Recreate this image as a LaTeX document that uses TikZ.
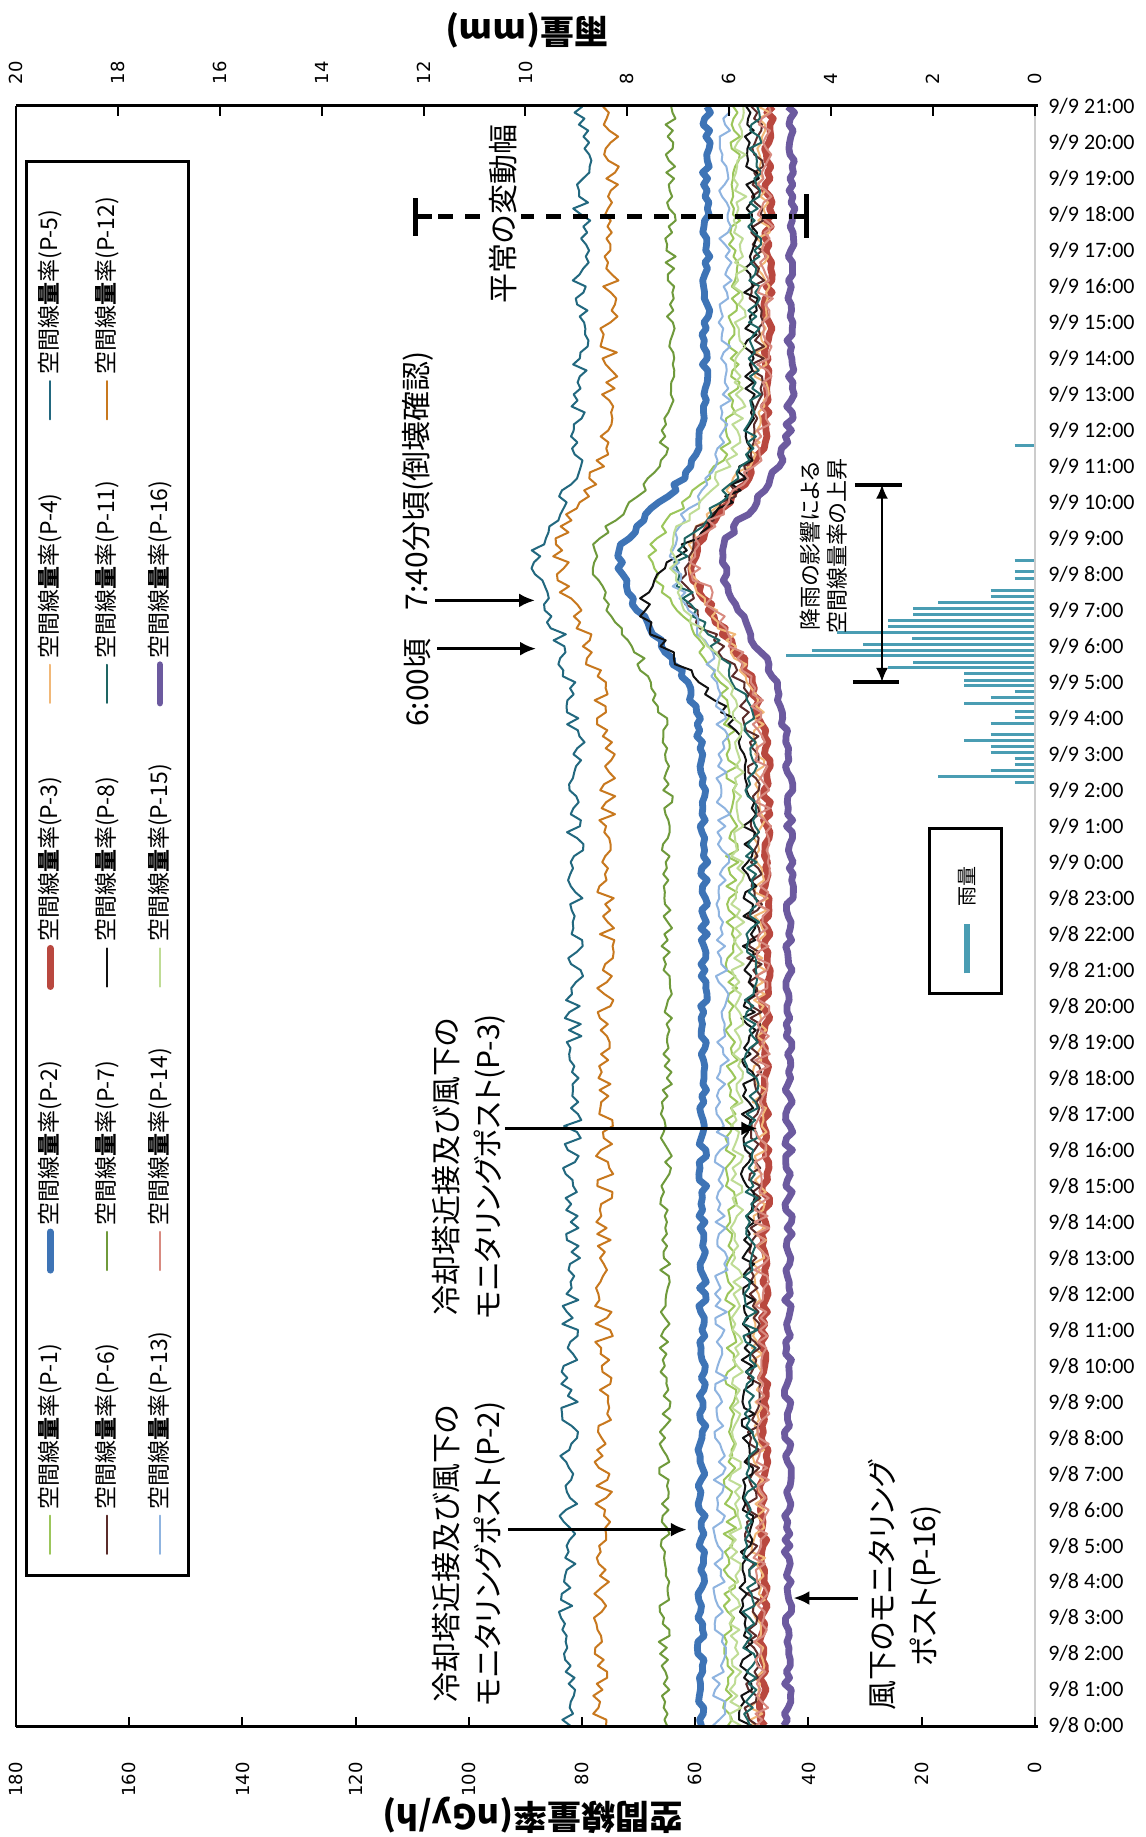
\documentclass[tikz,border=0pt]{standalone}
\usepackage{fontspec}
\newfontfamily\jpf{Noto Sans CJK JP}[RawFeature=+palt]
\newfontfamily\timef{Carlito}
\newfontfamily\tickf{DejaVu Sans}
\usetikzlibrary{arrows.meta}
\definecolor{cP1}{HTML}{9CC65B}
\definecolor{cP2}{HTML}{3E74B6}
\definecolor{cP3}{HTML}{B9483F}
\definecolor{cP4}{HTML}{F1B878}
\definecolor{cP5}{HTML}{22687F}
\definecolor{cP6}{HTML}{5B2C2A}
\definecolor{cP7}{HTML}{6F9A3B}
\definecolor{cP8}{HTML}{111111}
\definecolor{cP11}{HTML}{1E6563}
\definecolor{cP12}{HTML}{C8781E}
\definecolor{cP13}{HTML}{8FB4E0}
\definecolor{cP14}{HTML}{D88A80}
\definecolor{cP15}{HTML}{BFDC95}
\definecolor{cP16}{HTML}{6C5A9F}
\definecolor{rain}{HTML}{4A9DB3}
\newcommand\doseline[8]{%
  \draw[#1] plot[domain=0:45,samples=271,variable=\t]
  ({1029-5.628*(#2+(#3-#2)*\t/45+#4*rand+#5*exp(max(-9,-(\t-#6)*(\t-#6)/(2*ifthenelse(\t<#6,#7*#7,#8*#8)))))},{1716-35.78*\t});}
\begin{document}
\begin{tikzpicture}[x=0.50283pt,y=-0.50283pt,
  thinline/.style={line width=1pt,line join=round},
  heavyline/.style={line width=3.4pt,line join=round},
  sP1/.style={thinline,cP1}, sP2/.style={heavyline,cP2},
  sP3/.style={heavyline,cP3}, sP4/.style={thinline,cP4},
  sP5/.style={thinline,cP5}, sP6/.style={thinline,cP6},
  sP7/.style={thinline,cP7}, sP8/.style={thinline,cP8},
  sP11/.style={thinline,cP11}, sP12/.style={thinline,cP12},
  sP13/.style={thinline,cP13}, sP14/.style={thinline,cP14},
  sP15/.style={thinline,cP15}, sP16/.style={heavyline,cP16},
  axisline/.style={line width=1.5pt,black},
  timelab/.style={font=\timef\fontsize{11}{13}\selectfont,anchor=west,inner sep=0pt},
  ticklab/.style={font=\tickf\fontsize{9}{11}\selectfont,rotate=90,inner sep=0pt},
  axtitle/.style={font=\jpf\bfseries\fontsize{17}{20}\selectfont,rotate=180,inner sep=0pt},
  ann/.style={font=\jpf\fontsize{15}{21}\selectfont,rotate=90,align=center,inner sep=0pt},
  smallann/.style={font=\jpf\fontsize{11}{13.5}\selectfont,rotate=90,align=center,inner sep=0pt},
  lg/.style={font=\jpf\fontsize{11.5}{13}\selectfont,rotate=90,anchor=west,inner sep=0pt},
  arr/.style={line width=1.5pt,-{Latex[length=8pt,width=7pt]}},
  rainbar/.style={line width=1.5pt,rain},
  capline/.style={line width=2pt,black}]
\useasboundingbox (0,0) rectangle (1138.54,1826.64);
\fill[white] (0,0) rectangle (1138.54,1826.64);
\pgfmathsetseed{7}

% rain bars
\foreach \yy/\xl in {443/1009,557/1009,568/1009,575/1009,587/985,593/985,599/933,605/908,611/908,617/883,623/883,629/832,635/907,641/858,647/807,652/782,659/908,664/883,670/959,677/959,682/959,688/1009,694/985,700/959,707/1009,713/1009,719/985,730/985,736/959,742/985,748/985,754/1009,760/1009,766/985,772/933,778/1009}
  \draw[rainbar] (\xl,\yy) -- (1029,\yy);

% dose-rate series (start, end, noise, bump, peak time, rise, fall)
\doseline{sP1}{54}{53}{1.1}{14}{32.6}{1.9}{1.4}
\doseline{sP2}{59}{58}{0.7}{15}{32.4}{2.0}{1.4}
\doseline{sP3}{48}{47}{0.8}{13}{32.4}{1.9}{1.4}
\doseline{sP4}{49}{48}{1.3}{12}{32.6}{1.9}{1.4}
\doseline{sP5}{82.8}{79.8}{1.6}{7}{32.4}{1.8}{1.3}
\doseline{sP6}{50}{49}{1.3}{13}{32.2}{1.9}{1.4}
\doseline{sP7}{65.6}{64.3}{1.0}{13}{32.4}{2.0}{1.4}
\doseline{sP8}{51}{50}{1.3}{19}{31.2}{1.8}{1.6}
\doseline{sP11}{50.5}{49.5}{1.3}{13}{32.3}{1.9}{1.4}
\doseline{sP12}{76.5}{75}{1.6}{8.5}{32.5}{1.9}{1.4}
\doseline{sP13}{55.8}{54.5}{1.2}{9}{32.6}{1.9}{1.4}
\doseline{sP14}{48.5}{47.5}{1.4}{12}{32.5}{1.9}{1.4}
\doseline{sP15}{53}{52}{1.2}{12}{32.5}{1.9}{1.4}
\doseline{sP16}{43.7}{43}{0.7}{12}{32.4}{2.0}{1.4}

% frame and axes
\draw[line width=1pt] (16,105) -- (16,1717);
\draw[gray!40,line width=0.8pt] (1029,105) -- (1029,1717);
\draw[axisline] (16,105) -- (1032,105);
\draw[axisline] (16,1717) -- (1032,1717);
\foreach \v in {0,20,...,180}{
  \draw[line width=1pt] ({1029-5.628*\v},1717) -- ({1029-5.628*\v},1707);
  \node[ticklab,anchor=east] (bv\v) at ({1029-5.628*\v},1752) {\v};
}
\foreach \m in {0,2,...,20}{
  \draw[line width=1pt] ({1029-50.65*\m},105) -- ({1029-50.65*\m},115);
  \node[ticklab,anchor=west] (tm\m) at ({1029-50.65*\m},84) {\m};
}
\foreach \h in {0,...,45}{
  \pgfmathtruncatemacro\dd{ifthenelse(\h<24,8,9)}
  \pgfmathtruncatemacro\hh{mod(\h,24)}
  \node[timelab] (tl\h) at (1042,{1716-35.78*\h}) {9/\dd\ \hh:00};
}
\node[axtitle] (ytitle) at (530,1805) {空間線量率(nGy/h)};
\node[axtitle] (rtitle) at (524,30) {雨量(mm)};

% legend
\draw[line width=1.5pt] (26,161) rectangle (187,1567);
\foreach \px/\k/\lab in {50/0/1,50/1/2,50/2/3,50/3/4,50/4/5,
  106/0/6,106/1/7,106/2/8,106/3/11,106/4/12,
  159/0/13,159/1/14,159/2/15,159/3/16}{
  \pgfmathsetmacro\bb{1545-282*\k}
  \draw[sP\lab,line cap=round] (\px,\bb) -- (\px,\bb-38);
  \node[lg] (lg\lab) at (\px,\bb-44) {空間線\textbf{量}率(P-\lab)};
}

% rain legend
\draw[line width=1.5pt] (924,824) rectangle (996,988);
\node[smallann,font=\jpf\fontsize{10}{12}\selectfont] (rainlab) at (962,881) {雨量};
\draw[rain,line width=3pt] (962,968) -- (962,919);

% annotations
\node[ann,anchor=west] (t740) at (415,607) {7:40分頃(倒壊確認)};
\node[ann,anchor=west] (t600) at (415,723) {6:00頃};
\coordinate (a740s) at (433,597); \coordinate (a740e) at (532,597);
\coordinate (a600s) at (435,645); \coordinate (a600e) at (533,645);
\draw[arr] (a740s) -- (a740e);
\draw[arr] (a600s) -- (a600e);

\coordinate (nL) at (413,215); \coordinate (nR) at (802,215);
\draw[capline,line width=2.5pt] (413,197) -- (413,235);
\draw[capline,line width=2.5pt] (802,193) -- (802,237);
\draw[line width=2.5pt] (nL) -- (430,215);
\draw[line width=2.5pt,dash pattern=on 7.5pt off 6pt] (436,215) -- (788,215);
\draw[line width=2.5pt] (790,215) -- (nR);
\node[ann,fill=white,inner sep=2pt] (normal) at (500,213) {平常の変動幅};

\node[smallann] (rainrise) at (819,543) {降雨の影響による\\空間線量率の上昇};
\coordinate (rtop) at (877,482); \coordinate (rbot) at (877,678);
\draw[capline] (850,482) -- (897,482);
\draw[capline] (848,678) -- (894,678);
\draw[line width=0.9pt,{Latex[length=7pt,width=6pt]}-{Latex[length=7pt,width=6pt]}] (rtop) -- (rbot);

\node[ann] (p3lab) at (466,1160) {冷却塔近接及び風下の\\モニタリングポスト(P-3)};
\coordinate (p3s) at (502,1122); \coordinate (p3e) at (753,1122);
\draw[arr] (p3s) -- (p3e);
\node[ann] (p2lab) at (466,1545) {冷却塔近接及び風下の\\モニタリングポスト(P-2)};
\coordinate (p2s) at (505,1521); \coordinate (p2e) at (683,1521);
\draw[arr] (p2s) -- (p2e);
\node[ann] (p16lab) at (900,1577) {風下のモニタリング\\ポスト(P-16)};
\coordinate (p16s) at (853,1589); \coordinate (p16e) at (789,1589);
\draw[arr] (p16s) -- (p16e);
\end{tikzpicture}
\end{document}
